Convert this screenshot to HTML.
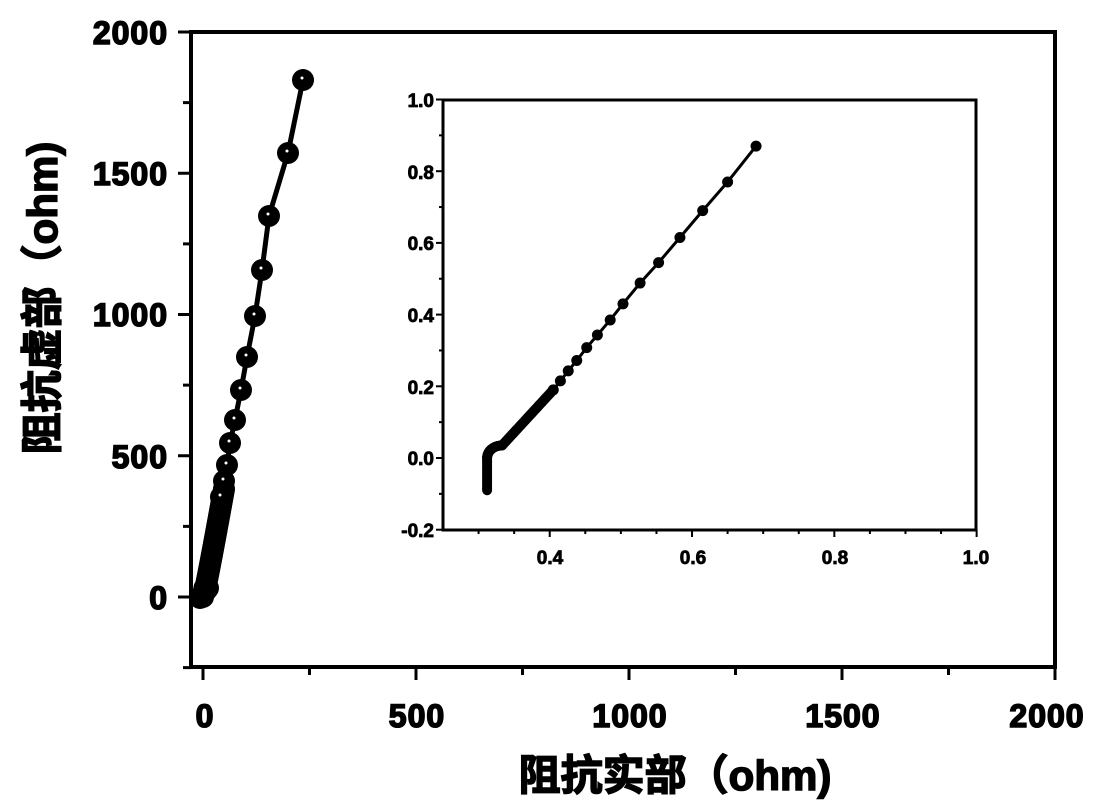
<!DOCTYPE html>
<html><head><meta charset="utf-8"><style>
html,body{margin:0;padding:0;background:#fff;}
svg{display:block;}
text{font-family:"Liberation Sans","Noto Sans CJK SC",sans-serif;font-weight:bold;fill:#000;stroke:#000;}
</style></head><body>
<svg id="s" width="1109" height="811" viewBox="0 0 1109 811" xmlns="http://www.w3.org/2000/svg">
<rect x="191" y="32" width="864" height="635" fill="none" stroke="#000" stroke-width="4"/>
<g id="mt" stroke="#000" stroke-width="3"></g>
<g font-size="32" text-anchor="end" stroke-width="1.6" letter-spacing="1">
<text x="168" y="44">2000</text>
<text x="168" y="185">1500</text>
<text x="168" y="326">1000</text>
<text x="168" y="468">500</text>
<text x="168" y="609">0</text>
</g>
<g font-size="32" text-anchor="middle" stroke-width="1.6" letter-spacing="1">
<text x="205" y="727">0</text>
<text x="417" y="727">500</text>
<text x="630" y="727">1000</text>
<text x="843" y="727">1500</text>
<text x="1047" y="727">2000</text>
</g>
<text x="675" y="790" font-size="42" text-anchor="middle" stroke-width="1.5">阻抗实部（ohm)</text>
<text transform="translate(57,298) rotate(-90)" font-size="42" text-anchor="middle" stroke-width="1.5">阻抗虚部（ohm)</text>
<g id="md"></g>
<rect x="443" y="100" width="533" height="430" fill="none" stroke="#000" stroke-width="3"/>
<g id="it" stroke="#000" stroke-width="2"></g>
<g font-size="19" text-anchor="end" stroke-width="0.8">
<text x="434" y="107">1.0</text>
<text x="434" y="179">0.8</text>
<text x="434" y="250">0.6</text>
<text x="434" y="322">0.4</text>
<text x="434" y="394">0.2</text>
<text x="434" y="465">0.0</text>
<text x="434" y="537">-0.2</text>
</g>
<g font-size="19" text-anchor="middle" stroke-width="0.8">
<text x="550" y="564">0.4</text>
<text x="693" y="564">0.6</text>
<text x="835" y="564">0.8</text>
<text x="976" y="564">1.0</text>
</g>
<g id="id"></g>
</svg>
<script>
var NS="http://www.w3.org/2000/svg";
function el(p,t,a){var e=document.createElementNS(NS,t);for(var k in a)e.setAttribute(k,a[k]);p.appendChild(e);return e;}
var mt=document.getElementById('mt');
for(var v=-250;v<=2000;v+=250){var y=597-v*0.2825;var maj=(v%500==0);el(mt,'line',{x1:191-(maj?13:8),x2:191,y1:y,y2:y});}
for(var v=0;v<=2000;v+=250){var x=203+v*0.426;var maj=(v%500==0);el(mt,'line',{x1:x,x2:x,y1:667,y2:667+(maj?13:8)});}
var md=document.getElementById('md');
var big=[[303,80],[288,153],[269,216],[262,270],[255,316],[247,357],[241,390],[235,420],[230,443],[227,465],[224,481],[221,497]];
var pts=big.slice();
for(var i=0;i<=60;i++){var t=i/60;pts.push([203+t*18+(t<0.1?0:3*Math.sqrt(t)),597-t*108]);}
for(var i=0;i<=20;i++){var t=i/20;pts.push([200+t*8,598-t*10]);}
el(md,'polyline',{points:big.map(function(p){return p.join(',')}).join(' ')+' 205,597',fill:'none',stroke:'#000','stroke-width':5});
pts.forEach(function(p){el(md,'ellipse',{cx:p[0],cy:p[1],rx:11,ry:11,fill:'#000'});});
big.forEach(function(p){el(md,'circle',{cx:p[0]-1,cy:p[1]-2,r:1.5,fill:'#fff'});});
var it=document.getElementById('it');
function ix(v){return 443+(v-0.25)/0.2*142.3;}
function iy(v){return 458-v/0.2*71.7;}
for(var v=-0.2;v<=1.001;v+=0.1){var y=iy(v);var maj=Math.abs(Math.round(v*10)%2)==0;el(it,'line',{x1:443-(maj?7:4),x2:443,y1:y,y2:y});}
for(var v=0.3;v<=1.001;v+=0.05){var x=ix(v);var maj=Math.abs(Math.round(v*100)%20)==0;el(it,'line',{x1:x,x2:x,y1:530,y2:530+(maj?7:4)});}
var idd=document.getElementById('id');
var ib=[[0.69,0.87],[0.65,0.77],[0.615,0.69],[0.583,0.615],[0.553,0.545],[0.527,0.488],[0.503,0.43],[0.485,0.385],[0.467,0.343],[0.452,0.308],[0.438,0.272],[0.426,0.243],[0.415,0.215],[0.405,0.19]];
el(idd,'polyline',{points:ib.map(function(p){return ix(p[0])+','+iy(p[1])}).join(' ')+' '+ix(0.33)+','+iy(0.03),fill:'none',stroke:'#000','stroke-width':3});
ib.forEach(function(p){el(idd,'circle',{cx:ix(p[0]),cy:iy(p[1]),r:5.5,fill:'#000'});});
for(var i=0;i<=60;i++){var t=i/60;el(idd,'circle',{cx:ix(0.333+t*0.072),cy:iy(0.035+t*0.155),r:5,fill:'#000'});}
for(var i=0;i<=30;i++){var a=i/30*Math.PI/2;el(idd,'circle',{cx:ix(0.312+0.021*(1-Math.cos(a))),cy:iy(0.0+0.035*Math.sin(a)),r:5,fill:'#000'});}
for(var i=0;i<=20;i++){el(idd,'circle',{cx:ix(0.312),cy:iy(-0.09+i*0.0045),r:5,fill:'#000'});}
</script>
</body></html>
